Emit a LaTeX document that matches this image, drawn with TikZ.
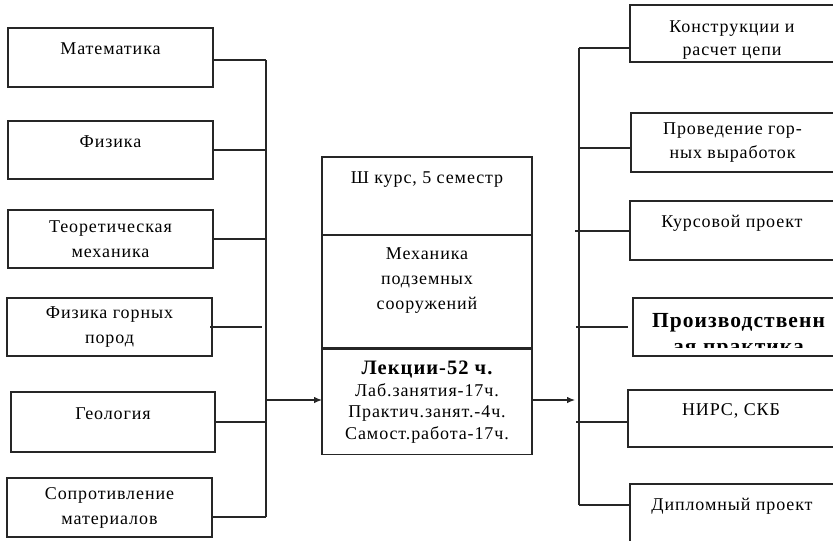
\documentclass[tikz,border=0pt]{standalone}
\usepackage{fontspec}
\setmainfont{Liberation Serif}[LetterSpace=5]
\usetikzlibrary{arrows.meta}

\begin{document}
\begin{tikzpicture}[x=1pt,y=-1pt,
  box/.style={draw=black!85,line width=1.1pt,inner sep=0pt,outer sep=0pt,
    minimum width=205pt,minimum height=58pt,align=center,
    font=\fontsize{18}{25}\selectfont},
  one/.style={text height=12pt,text depth=18pt},
  lnk/.style={black!85,line width=1.1pt},
  arr/.style={lnk,-{Latex[length=8pt,width=6.5pt]}}]
\useasboundingbox (0,0) rectangle (833,541);
\clip (0,0) rectangle (833,541);
% left column
\node[box,minimum height=59pt,one] (mat) at (110.5,57.5) {Математика};
\node[box,one] (fiz) at (110.5,150) {Физика};
\node[box] (teor) at (110.5,239) {Теоретическая\\механика};
\node[box] (pgp) at (109.5,327) {Физика горных\\пород};
\node[box,minimum width=204pt,minimum height=60pt,one] (geol) at (113,422) {Геология};
\node[box,minimum height=59pt] (sopr) at (109.5,507.5) {Сопротивление\\материалов};
\coordinate (busLtop) at (266,60);
\coordinate (busLbot) at (266,517);
\draw[lnk] (busLtop) -- (busLbot);
\draw[lnk] ([yshift=-2.5pt]mat.east) -- (busLtop);
\draw[lnk] (fiz.east) -- (fiz.east -| busLtop);
\draw[lnk] (teor.east) -- (teor.east -| busLtop);
\draw[lnk] ([xshift=-2pt]pgp.east) -- ([xshift=-4pt]pgp.east -| busLtop);
\draw[lnk] (geol.east) -- (geol.east -| busLtop);
\draw[lnk] ([yshift=-9.5pt]sopr.east) -- (busLbot);
% centre
\node[box,minimum width=210pt,minimum height=78pt,text height=12pt,text depth=38pt] (cenA) at (427,196) {Ш курс, 5 семестр};
\node[box,minimum width=210pt,minimum height=113pt] (cenB) at (427,291.5) {Механика\\подземных\\сооружений\\\mbox{}};
\node[box,minimum width=210pt,minimum height=105pt,font=\fontsize{18}{21.5}\selectfont] (cenC) at (427,402)
  {{\bfseries\fontsize{20.5}{22}\selectfont Лекции-52 ч.}\\Лаб.занятия-17ч.\\Практич.занят.-4ч.\\Самост.работа-17ч.};
\draw[line width=1.7pt,black!85] (cenA.south west) -- (cenA.south east);
\draw[arr] ([yshift=2pt]cenC.west -| busLtop) -- ([yshift=2pt]cenC.west);
% right column
\coordinate (busRtop) at (579,48);
\coordinate (busRbot) at (579,505);
\draw[arr] ([yshift=2pt]cenC.east) -- ([yshift=2pt,xshift=-4pt]cenC.east -| busRtop);
\node[box,minimum width=204pt,minimum height=57pt,font=\fontsize{18}{23}\selectfont,text height=46pt,text depth=2pt] (kon) at (732,33.5) {Конструкции и\\расчет цепи};
\node[box,minimum width=203pt,minimum height=59pt,font=\fontsize{18}{24}\selectfont] (prov) at (732.5,142.5) {Проведение гор-\\ных выработок};
\node[box,minimum width=204pt,minimum height=59pt,one] (kurs) at (732,230.5) {Курсовой проект};
\node[box,minimum width=201pt] (proizv) at (733.5,327) {};
\node[box,minimum width=206pt,minimum height=57pt,one] (nirs) at (731,418.5) {НИРС, СКБ};
\node[box,minimum width=204pt,minimum height=59pt,one] (dipl) at (732,513.5) {Дипломный проект};
\begin{scope}
  \clip (proizv.north west) rectangle ([yshift=8.5pt]proizv.south east);
  \node[inner sep=0pt,align=center,font=\bfseries\fontsize{21.5}{26}\selectfont] (proizvt) at (738.5,336) {Производственн\\ая практика};
\end{scope}
\draw[lnk] (busRtop) -- (busRbot);
\draw[lnk] ([yshift=-14.5pt]kon.west) -- (busRtop);
\draw[lnk] ([yshift=-5.5pt]prov.west) -- ([yshift=-5.5pt]prov.west -| busRtop);
\draw[lnk] ([yshift=-0.5pt]kurs.west) -- ([yshift=-0.5pt,xshift=-4pt]kurs.west -| busRtop);
\draw[lnk] ([xshift=-5pt]proizv.west) -- ([xshift=-3pt]proizv.west -| busRtop);
\draw[lnk] ([yshift=-3.5pt]nirs.west) -- ([yshift=-3.5pt,xshift=-3pt]nirs.west -| busRtop);
\draw[lnk] ([yshift=8.5pt]dipl.west) -- (busRbot);
\end{tikzpicture}
\end{document}
